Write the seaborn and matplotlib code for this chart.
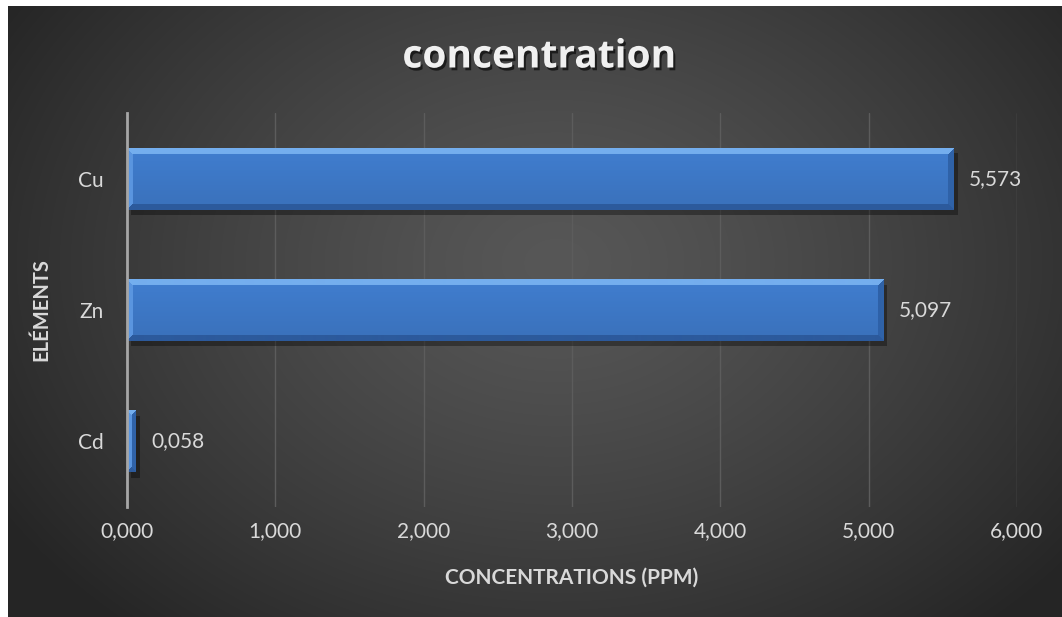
import numpy as np
import pandas as pd
import matplotlib
matplotlib.use("Agg")
import matplotlib.pyplot as plt
import seaborn as sns
from matplotlib import patheffects as pe
from matplotlib.colors import to_rgb

# Data
elements = ["Cu", "Zn", "Cd"]
concentrations = [5.573, 5.097, 0.058]
x_ticks = [0, 1, 2, 3, 4, 5, 6]

sns.set_theme(style="dark")
plt.rcParams["font.family"] = ["Lato", "DejaVu Sans"]

W, H = 1062, 617
fig = plt.figure(figsize=(W / 100, H / 100), dpi=100, facecolor="white")

# Radial dark background of the chart area
bg = fig.add_axes([8 / W, 0, 1 - 8 / W, 1 - 6 / H])
bh, bw = 611, 1054
yy, xx = np.mgrid[0:bh, 0:bw]
cx, cy = bw * 0.52, bh * 0.42
r = np.sqrt(((xx - cx) / (bw * 0.62)) ** 2 + ((yy - cy) / (bh * 0.80)) ** 2)
r = np.clip(r, 0, 1)
inner, outer = 0x57 / 255, 0x25 / 255
g = inner + (outer - inner) * r ** 1.3
bg.imshow(np.dstack([g, g, g]), aspect="auto", extent=(0, 1, 0, 1), origin="upper")
bg.set_axis_off()

ax = fig.add_axes([127 / W, 1 - 507 / H, (1017 - 127) / W, (507 - 113) / H])
ax.set_facecolor("none")

df = pd.DataFrame({"element": elements, "ppm": concentrations})
sns.barplot(data=df, y="element", x="ppm", orient="h", color="#3f79c9",
            width=0.47, saturation=1, linewidth=0, edgecolor="none",
            ax=ax, zorder=3)

ax.set_xlim(0, 6)
ax.set_ylim(2.5, -0.5)
ax.set_xticks(x_ticks)
ax.set_xticklabels([f"{t:.3f}".replace(".", ",") for t in x_ticks])

# Bevel shading for each bar
fig.canvas.draw()
face = np.array(to_rgb("#3f7bcb"))
top_c = np.array(to_rgb("#74aeee"))
bot_c = np.array(to_rgb("#2c5a9c"))
left_c = np.array(to_rgb("#5a95df"))
right_c = np.array(to_rgb("#2f62a8"))
bevel = 6
for p in ax.patches:
    x0, y0, w, h = p.get_x(), p.get_y(), p.get_width(), p.get_height()
    (px0, py0), (px1, py1) = ax.transData.transform([(x0, y0), (x0 + w, y0 + h)])
    npx = max(int(round(abs(px1 - px0))), 2)
    npy = max(int(round(abs(py1 - py0))), 2)
    jj, ii = np.meshgrid(np.arange(npx), np.arange(npy))
    dt = ii + 0.5
    db = npy - ii - 0.5
    dl = jj + 0.5
    dr = npx - jj - 0.5
    img = np.broadcast_to(face, (npy, npx, 3)).copy()
    t = ii / max(npy - 1, 1)
    img *= (1.02 - 0.10 * t)[..., None]
    d = np.stack([dt, db, dl, dr])
    idx = d.argmin(axis=0)
    dmin = d.min(axis=0)
    for k, col in enumerate([top_c, bot_c, left_c, right_c]):
        m = (idx == k) & (dmin < bevel)
        img[m] = col
    img = np.clip(img, 0, 1)
    im = ax.imshow(img, extent=(x0, x0 + w, y0 + h, y0), aspect="auto",
                   origin="upper", zorder=4, interpolation="bilinear")
    im.set_clip_path(p)
    p.set_path_effects([pe.SimplePatchShadow(offset=(3, -4), shadow_rgbFace="black", alpha=0.35),
                        pe.Normal()])

ax.set_xlim(0, 6)
ax.set_ylim(2.5, -0.5)

# Value labels
for i, v in enumerate(concentrations):
    ax.annotate(f"{v:.3f}".replace(".", ","), (v, i), xytext=(11, 0),
                textcoords="offset points", va="center", ha="left",
                color="#d9d9d9", fontsize=15)

# Grid, spines, ticks
ax.xaxis.grid(True, color="#5c5c5c", lw=1, zorder=0)
ax.yaxis.grid(False)
for s in ["top", "right", "bottom"]:
    ax.spines[s].set_visible(False)
ax.spines["left"].set_color("#a6a6a6")
ax.spines["left"].set_linewidth(2)
ax.spines["left"].set_zorder(5)
ax.tick_params(axis="both", length=0, colors="#d9d9d9", labelsize=15)
ax.tick_params(axis="x", pad=10)
ax.tick_params(axis="y", pad=17)

ax.set_xlabel("CONCENTRATIONS (PPM)", color="#d9d9d9", fontsize=15,
              fontweight="bold", labelpad=19)
ax.set_ylabel("ELÉMENTS", color="#d9d9d9", fontsize=14.5,
              fontweight="bold", labelpad=19)

fig.text(539 / W, 1 - 57 / H, "concentration", ha="center", va="center",
         color="#f0f0f0", fontsize=28, fontweight="bold",
         family=["Open Sans", "DejaVu Sans"],
         path_effects=[pe.withSimplePatchShadow(offset=(1.5, -2), shadow_rgbFace="black", alpha=0.6)])

fig.savefig("out.png", dpi=100, facecolor=fig.get_facecolor())
